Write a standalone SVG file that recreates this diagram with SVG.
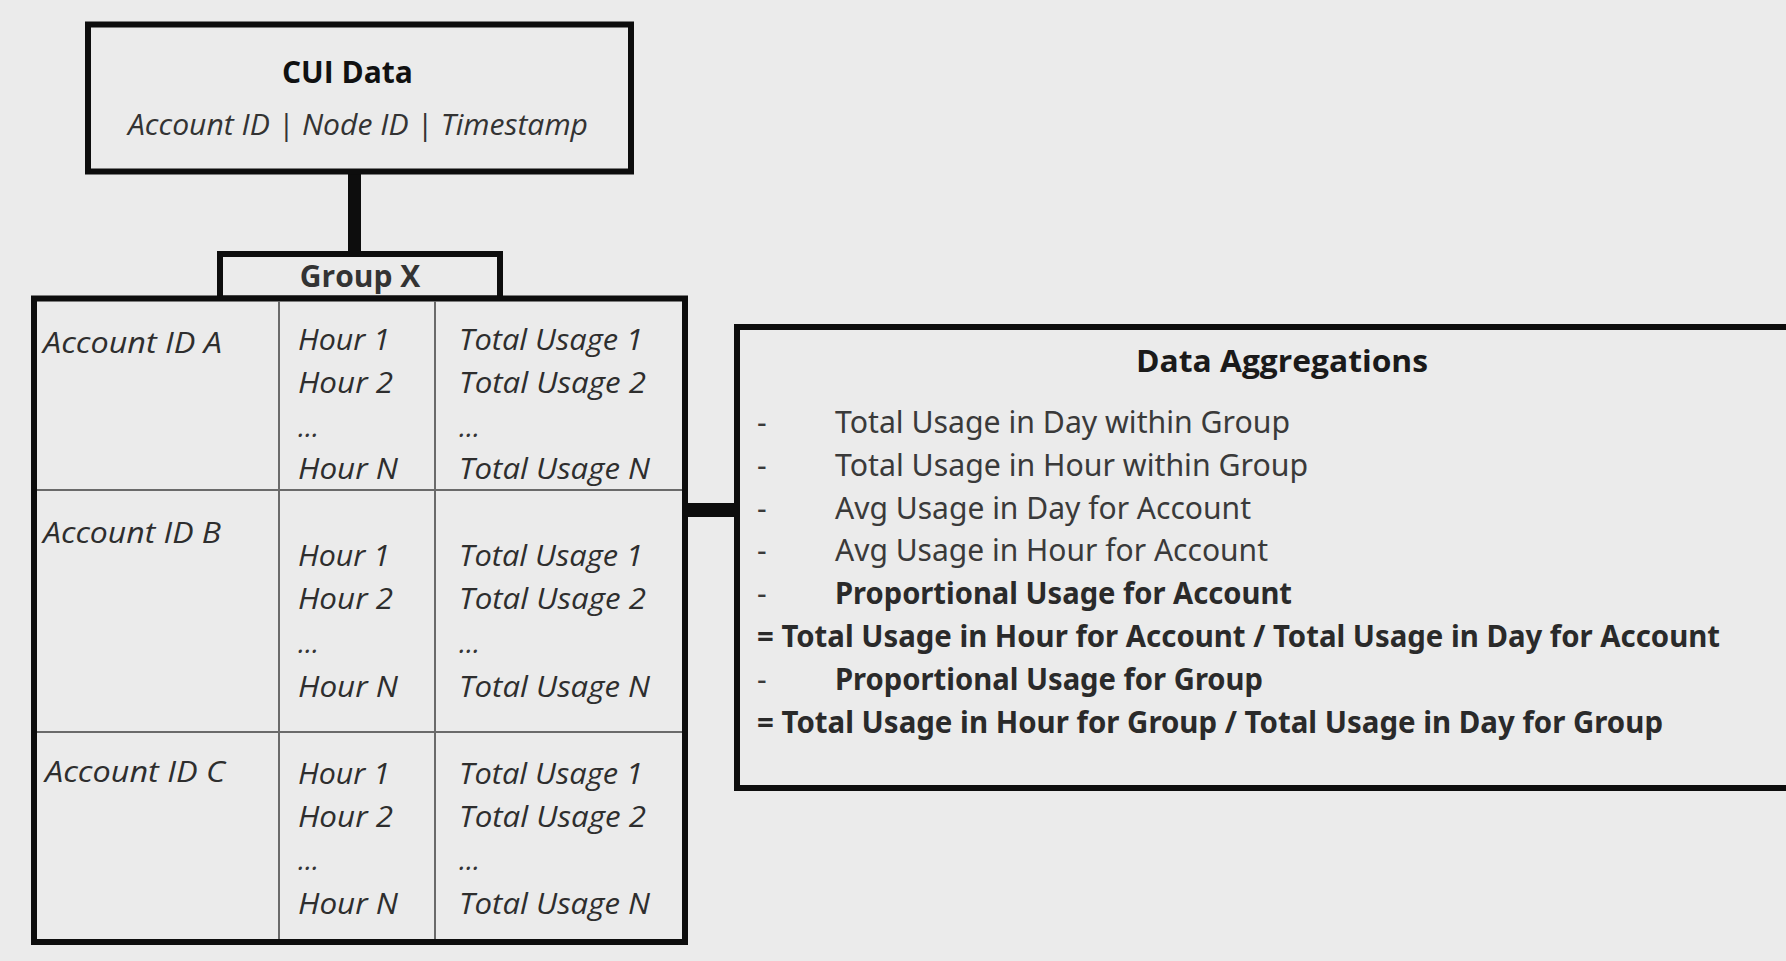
<svg xmlns="http://www.w3.org/2000/svg" width="1786" height="961" viewBox="0 0 1786 961">
  <style>
    .box { fill: #ebebeb; stroke: #0d0d0d; stroke-width: 6; }
    .grid { stroke: #6a6a6a; stroke-width: 2; fill: none; }
    .link { stroke: #0d0d0d; fill: none; }
    .title { font-family: "Open Sans", "Noto Sans", sans-serif; font-weight: 700; font-size: 30px; fill: #111; }
    .sub { font-family: "Open Sans", "Noto Sans", sans-serif; font-style: italic; font-size: 30px; fill: #333; }
    .cell { font-family: "Open Sans", "Noto Sans", sans-serif; font-style: italic; font-size: 30px; fill: #2e2e2e; }
    .dots { font-family: "Open Sans", "Noto Sans", sans-serif; font-style: italic; font-size: 28px; fill: #333; }
    .agg { font-family: "Noto Sans", "Open Sans", sans-serif; font-size: 30px; fill: #3a3a3a; }
    .agg-b { font-family: "Noto Sans", "Open Sans", sans-serif; font-size: 30px; font-weight: 700; fill: #2a2a2a; }
  </style>

  <rect x="0" y="0" width="1786" height="961" fill="#ebebeb"/>

  <!-- connectors -->
  <g id="connectors">
    <line class="link" x1="354.5" y1="172" x2="354.5" y2="254" stroke-width="13"/>
    <line class="link" x1="685" y1="510" x2="737" y2="510" stroke-width="14"/>
  </g>

  <!-- source record box -->
  <g id="cui-data">
    <rect class="box" x="88" y="24.5" width="543" height="147"/>
    <text class="title" x="347.5" y="83" text-anchor="middle">CUI Data</text>
    <text class="sub" x="128" y="135" textLength="460" lengthAdjust="spacingAndGlyphs">Account ID | Node ID | Timestamp</text>
  </g>

  <!-- group header -->
  <g id="group-x">
    <rect class="box" x="220" y="254" width="280" height="44.5"/>
    <text class="title" x="360" y="287" text-anchor="middle" style="fill:#333">Group X</text>
  </g>

  <!-- per-account hourly usage table -->
  <g id="usage-table">
    <rect class="box" x="34" y="298.5" width="651" height="643.5"/>
    <line class="grid" x1="279" y1="301" x2="279" y2="939"/>
    <line class="grid" x1="435" y1="301" x2="435" y2="939"/>
    <line class="grid" x1="37" y1="490" x2="682" y2="490"/>
    <line class="grid" x1="37" y1="732" x2="682" y2="732"/>

    <g id="account-a">
      <text class="cell" x="43" y="353" textLength="179" lengthAdjust="spacingAndGlyphs">Account ID A</text>
      <text class="cell" x="298" y="350" textLength="92" lengthAdjust="spacingAndGlyphs">Hour 1</text>
      <text class="cell" x="298" y="393" textLength="95" lengthAdjust="spacingAndGlyphs">Hour 2</text>
      <text class="dots" x="298" y="437">...</text>
      <text class="cell" x="298" y="479" textLength="100" lengthAdjust="spacingAndGlyphs">Hour N</text>
      <text class="cell" x="459" y="350" textLength="184" lengthAdjust="spacingAndGlyphs">Total Usage 1</text>
      <text class="cell" x="459" y="393" textLength="187" lengthAdjust="spacingAndGlyphs">Total Usage 2</text>
      <text class="dots" x="459" y="437">...</text>
      <text class="cell" x="459" y="479" textLength="191" lengthAdjust="spacingAndGlyphs">Total Usage N</text>
    </g>

    <g id="account-b">
      <text class="cell" x="43" y="543" textLength="178" lengthAdjust="spacingAndGlyphs">Account ID B</text>
      <text class="cell" x="298" y="566" textLength="92" lengthAdjust="spacingAndGlyphs">Hour 1</text>
      <text class="cell" x="298" y="609" textLength="95" lengthAdjust="spacingAndGlyphs">Hour 2</text>
      <text class="dots" x="298" y="653">...</text>
      <text class="cell" x="298" y="697" textLength="100" lengthAdjust="spacingAndGlyphs">Hour N</text>
      <text class="cell" x="459" y="566" textLength="184" lengthAdjust="spacingAndGlyphs">Total Usage 1</text>
      <text class="cell" x="459" y="609" textLength="187" lengthAdjust="spacingAndGlyphs">Total Usage 2</text>
      <text class="dots" x="459" y="653">...</text>
      <text class="cell" x="459" y="697" textLength="191" lengthAdjust="spacingAndGlyphs">Total Usage N</text>
    </g>

    <g id="account-c">
      <text class="cell" x="45" y="782" textLength="180" lengthAdjust="spacingAndGlyphs">Account ID C</text>
      <text class="cell" x="298" y="784" textLength="92" lengthAdjust="spacingAndGlyphs">Hour 1</text>
      <text class="cell" x="298" y="827" textLength="95" lengthAdjust="spacingAndGlyphs">Hour 2</text>
      <text class="dots" x="298" y="870">...</text>
      <text class="cell" x="298" y="914" textLength="100" lengthAdjust="spacingAndGlyphs">Hour N</text>
      <text class="cell" x="459" y="784" textLength="184" lengthAdjust="spacingAndGlyphs">Total Usage 1</text>
      <text class="cell" x="459" y="827" textLength="187" lengthAdjust="spacingAndGlyphs">Total Usage 2</text>
      <text class="dots" x="459" y="870">...</text>
      <text class="cell" x="459" y="914" textLength="191" lengthAdjust="spacingAndGlyphs">Total Usage N</text>
    </g>
  </g>

  <!-- aggregation definitions -->
  <g id="data-aggregations">
    <rect class="box" x="737" y="327" width="1100" height="461"/>
    <text class="title" x="1136" y="372" textLength="292" lengthAdjust="spacingAndGlyphs" style="fill:#1a1a1a">Data Aggregations</text>

    <text class="agg" x="757" y="433">-</text>
    <text class="agg" x="835" y="433" textLength="455" lengthAdjust="spacingAndGlyphs">Total Usage in Day within Group</text>
    <text class="agg" x="757" y="476">-</text>
    <text class="agg" x="835" y="476" textLength="473" lengthAdjust="spacingAndGlyphs">Total Usage in Hour within Group</text>
    <text class="agg" x="757" y="519">-</text>
    <text class="agg" x="835" y="519" textLength="416" lengthAdjust="spacingAndGlyphs">Avg Usage in Day for Account</text>
    <text class="agg" x="757" y="561">-</text>
    <text class="agg" x="835" y="561" textLength="433" lengthAdjust="spacingAndGlyphs">Avg Usage in Hour for Account</text>
    <text class="agg" x="757" y="604">-</text>
    <text class="agg-b" x="835" y="604" textLength="457" lengthAdjust="spacingAndGlyphs">Proportional Usage for Account</text>
    <text class="agg-b" x="757" y="647" textLength="963" lengthAdjust="spacingAndGlyphs">= Total Usage in Hour for Account / Total Usage in Day for Account</text>
    <text class="agg" x="757" y="690">-</text>
    <text class="agg-b" x="835" y="690" textLength="428" lengthAdjust="spacingAndGlyphs">Proportional Usage for Group</text>
    <text class="agg-b" x="757" y="733" textLength="906" lengthAdjust="spacingAndGlyphs">= Total Usage in Hour for Group / Total Usage in Day for Group</text>
  </g>
</svg>
